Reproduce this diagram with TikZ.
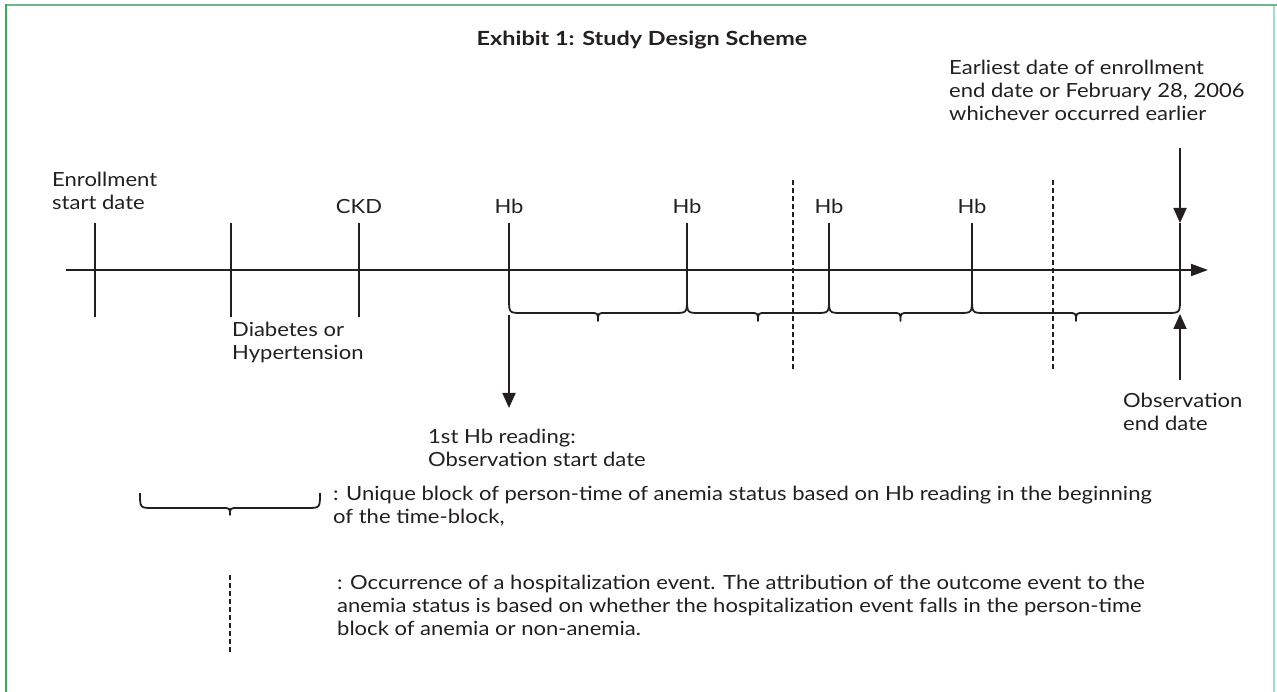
\documentclass[tikz,border=0pt]{standalone}
\usepackage{fontspec}
\setmainfont{Lato}[FakeStretch=1.13]
\newfontfamily\titlefont{Lato}[FakeStretch=1.2]
\usetikzlibrary{arrows.meta}
\definecolor{ink}{HTML}{231F20}
\definecolor{frametop}{HTML}{6CB88A}
\definecolor{frameleft}{HTML}{3DAA5E}
\definecolor{frameright}{HTML}{A5DCC5}
\tikzset{
  txt/.style={inner sep=0pt, text=ink, font=\fontsize{19.5}{23}\selectfont, align=left, anchor=base west},
  lbl/.style={inner sep=0pt, text=ink, font=\fontsize{19.5}{23}\selectfont, anchor=base},
  ttl/.style={inner sep=0pt, text=ink, font=\titlefont\fontsize{19.5}{23}\selectfont\bfseries, anchor=base},
  solidln/.style={draw=ink, line width=1.8pt},
  dashln/.style={draw=ink, line width=1.2pt, dash pattern=on 5pt off 3pt},
  bracestyle/.style={draw=ink, line width=1.8pt, line join=round},
  arr/.style={draw=ink, line width=1.8pt, -{Triangle[length=15pt,width=13pt]}},
  axisarr/.style={draw=ink, line width=1.8pt, -{Triangle[length=17pt,width=12pt]}}
}
\begin{document}
\begin{tikzpicture}[x=1pt,y=-1pt]
\useasboundingbox (0,0) rectangle (1277,692);
% frame
\draw[frametop, line width=2.5pt] (5,5) -- (1277,5);
\draw[frameleft, line width=2pt] (6,4) -- (6,692);
\draw[frameright, line width=1.5pt] (1274,6) -- (1274,692);

% title
\node[ttl] (title) at (642,46) {Exhibit 1: Study Design Scheme};

% axis
\coordinate (ax0) at (66,270);
\coordinate (ax1) at (1208,270);
\draw[axisarr] (ax0) -- (ax1);

% early ticks
\foreach \n/\x in {enr/95, dia/231, ckd/359} {
  \coordinate (\n t) at (\x,223);
  \coordinate (\n b) at (\x,317);
  \draw[solidln] (\n t) -- (\n b);
}

% Hb ticks and end tick
\foreach \n/\x in {hba/509, hbb/687, hbc/829, hbd/972, obe/1180} {
  \coordinate (\n t) at (\x,223);
  \coordinate (\n b) at (\x,298);
  \draw[solidln] (\n t) -- (\n b);
}

% braces between Hb readings
\foreach \a/\b in {509/687, 687/829, 829/972, 972/1180} {
  \draw[bracestyle] (\a,298) .. controls (\a,313) .. (\a+13,313)
    -- ({(\a+\b)/2-8},313) .. controls ({(\a+\b)/2},313) .. ({(\a+\b)/2},321)
    .. controls ({(\a+\b)/2},313) .. ({(\a+\b)/2+8},313)
    -- (\b-13,313) .. controls (\b,313) .. (\b,298);
}

% hospitalization events
\coordinate (ev1t) at (793,180); \coordinate (ev1b) at (793,370);
\coordinate (ev2t) at (1053,180); \coordinate (ev2b) at (1053,370);
\draw[dashln] (ev1t) -- (ev1b);
\draw[dashln] (ev2t) -- (ev2b);

% arrows
\coordinate (ea) at (1180,148);
\draw[arr] (ea) -- (obet);
\coordinate (oa) at (1180,380);
\coordinate (ob) at (1180,314);
\draw[arr] (oa) -- (ob);
\coordinate (sa) at (509,315);
\coordinate (sb) at (509,408);
\draw[arr] (sa) -- (sb);

% labels (base anchor = baseline of last line)
\node[txt] (enrl) at (52,210) {Enrollment\\start date};
\node[lbl] (ckdl) at (359,214) {CKD};
\node[lbl] (hbal) at (509,214) {Hb};
\node[lbl] (hbbl) at (687,214) {Hb};
\node[lbl] (hbcl) at (829,214) {Hb};
\node[lbl] (hbdl) at (972,214) {Hb};
\node[txt] (dial) at (232,360) {Diabetes or\\Hypertension};
\node[txt] (startl) at (428,466) {1st Hb reading:\\Observation start date};
\node[txt] (endl) at (1123,430) {Observation\\end date};
\node[txt] (earl) at (949,121) {Earliest date of enrollment\\end date or February 28, 2006\\whichever occurred earlier};

% legend
\draw[bracestyle] (140,493) .. controls (140,508) .. (153,508)
  -- (222,508) .. controls (230,508) .. (230,515)
  .. controls (230,508) .. (238,508)
  -- (307,508) .. controls (320,508) .. (320,493);
\node[txt] (leg1) at (333,523) {: Unique block of person-time of anemia status based on Hb reading in the beginning\\of the time-block,};
\coordinate (lgt) at (230,575); \coordinate (lgb) at (230,653);
\draw[dashln] (lgt) -- (lgb);
\node[txt] (leg2) at (337,635) {: Occurrence of a hospitalization event. The attribution of the outcome event to the\\anemia status is based on whether the hospitalization event falls in the person-time\\block of anemia or non-anemia.};
\end{tikzpicture}
\end{document}
